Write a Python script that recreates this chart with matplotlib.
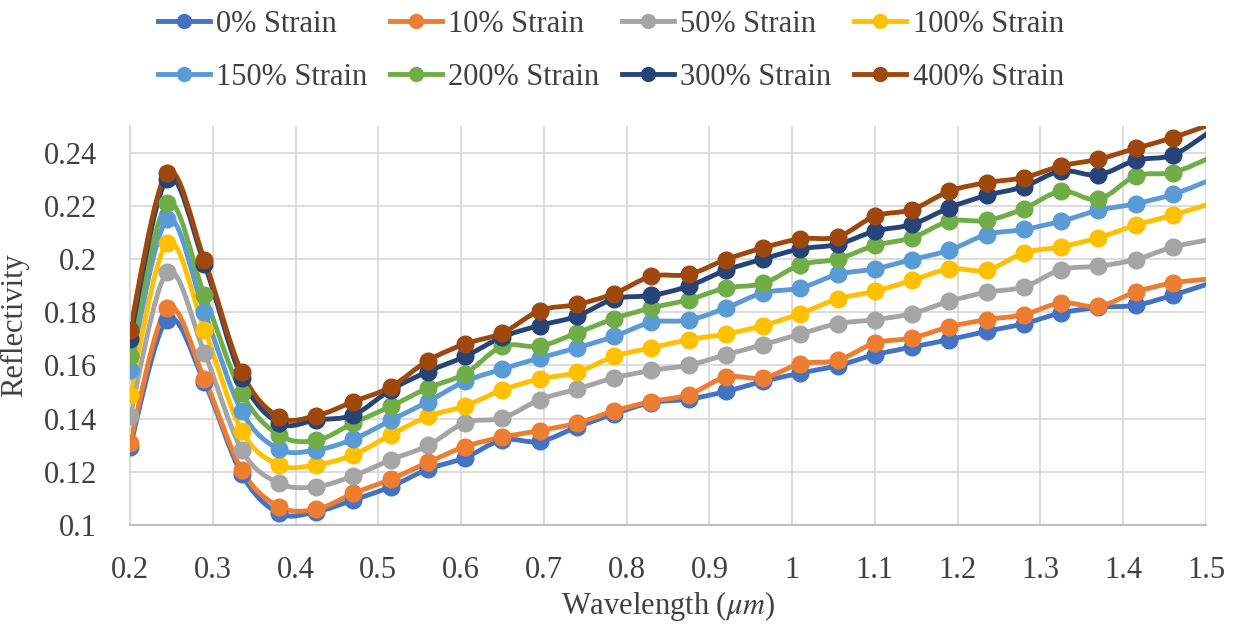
import numpy as np
import matplotlib
matplotlib.use("Agg")
import matplotlib.pyplot as plt
from matplotlib.path import Path
from matplotlib.patches import PathPatch
from matplotlib.lines import Line2D

plt.rcParams["font.family"] = ["Liberation Serif", "DejaVu Serif"]
plt.rcParams["mathtext.fontset"] = "stix"

# ====== DATA ======
wavelength = [0.2, 0.245, 0.29, 0.335, 0.38, 0.425, 0.47, 0.515, 0.56, 0.605,
              0.65, 0.695, 0.74, 0.785, 0.83, 0.875, 0.92, 0.965, 1.01, 1.055,
              1.1, 1.145, 1.19, 1.235, 1.28, 1.325, 1.37, 1.415, 1.46, 1.505]

s0 = [0.1293, 0.1772, 0.1536, 0.1191, 0.1044, 0.1050, 0.1094, 0.1144, 0.1210, 0.1253,
      0.1320, 0.1314, 0.1368, 0.1418, 0.1460, 0.1473, 0.1502, 0.1540, 0.1571, 0.1599,
      0.1640, 0.1669, 0.1697, 0.1728, 0.1757, 0.1797, 0.1818, 0.1826, 0.1864, 0.1909]
s10 = [0.1308, 0.1816, 0.1549, 0.1207, 0.1069, 0.1059, 0.1119, 0.1172, 0.1235, 0.1295,
       0.1330, 0.1355, 0.1383, 0.1429, 0.1464, 0.1490, 0.1556, 0.1553, 0.1606, 0.1619,
       0.1684, 0.1703, 0.1745, 0.1772, 0.1791, 0.1835, 0.1822, 0.1876, 0.1910, 0.1925]
s50 = [0.1408, 0.1950, 0.1647, 0.1282, 0.1157, 0.1144, 0.1185, 0.1245, 0.1299, 0.1385,
       0.1402, 0.1471, 0.1511, 0.1553, 0.1581, 0.1601, 0.1640, 0.1678, 0.1718, 0.1757,
       0.1772, 0.1795, 0.1841, 0.1875, 0.1895, 0.1960, 0.1973, 0.1998, 0.2045, 0.2073]
s100 = [0.1490, 0.2061, 0.1734, 0.1354, 0.1226, 0.1226, 0.1264, 0.1339, 0.1408, 0.1448,
        0.1508, 0.1549, 0.1574, 0.1634, 0.1666, 0.1697, 0.1718, 0.1750, 0.1795, 0.1850,
        0.1879, 0.1920, 0.1963, 0.1958, 0.2023, 0.2046, 0.2080, 0.2127, 0.2165, 0.2208]
s150 = [0.1584, 0.2149, 0.1800, 0.1427, 0.1285, 0.1282, 0.1323, 0.1393, 0.1464, 0.1540,
        0.1586, 0.1628, 0.1666, 0.1709, 0.1762, 0.1770, 0.1816, 0.1873, 0.1891, 0.1942,
        0.1963, 0.1998, 0.2033, 0.2092, 0.2111, 0.2142, 0.2183, 0.2208, 0.2243, 0.2297]
s200 = [0.1637, 0.2209, 0.1863, 0.1496, 0.1338, 0.1318, 0.1383, 0.1446, 0.1515, 0.1569,
        0.1672, 0.1672, 0.1722, 0.1776, 0.1816, 0.1847, 0.1891, 0.1908, 0.1978, 0.2000,
        0.2051, 0.2080, 0.2142, 0.2145, 0.2189, 0.2255, 0.2224, 0.2312, 0.2325, 0.2381]
s300 = [0.1700, 0.2302, 0.1980, 0.1552, 0.1383, 0.1395, 0.1414, 0.1508, 0.1577, 0.1634,
        0.1707, 0.1750, 0.1785, 0.1850, 0.1863, 0.1898, 0.1958, 0.2000, 0.2038, 0.2055,
        0.2105, 0.2130, 0.2193, 0.2239, 0.2272, 0.2331, 0.2316, 0.2371, 0.2391, 0.2479]
s400 = [0.1734, 0.2325, 0.1996, 0.1574, 0.1406, 0.1411, 0.1464, 0.1519, 0.1618, 0.1681,
        0.1722, 0.1806, 0.1829, 0.1870, 0.1935, 0.1942, 0.1998, 0.2042, 0.2076, 0.2083,
        0.2161, 0.2186, 0.2255, 0.2287, 0.2306, 0.2350, 0.2375, 0.2416, 0.2456, 0.2506]

labels = ["0% Strain", "10% Strain", "50% Strain", "100% Strain",
          "150% Strain", "200% Strain", "300% Strain", "400% Strain"]
series = [s0, s10, s50, s100, s150, s200, s300, s400]
colors = ["#4472C4", "#ED7D31", "#A5A5A5", "#FFC000",
          "#5B9BD5", "#70AD47", "#264478", "#9E480E"]

x_ticks = [0.2, 0.3, 0.4, 0.5, 0.6, 0.7, 0.8, 0.9, 1.0, 1.1, 1.2, 1.3, 1.4, 1.5]
y_ticks = [0.1, 0.12, 0.14, 0.16, 0.18, 0.2, 0.22, 0.24]
XMIN, XMAX, YMIN, YMAX = 0.2, 1.5, 0.1, 0.25


def smooth_path(xs, ys):
    # excel-ish smoothed line: bezier segments through every point
    p = np.column_stack([xs, ys])
    n = len(p)
    verts = [p[0]]
    codes = [Path.MOVETO]
    for i in range(n - 1):
        p0 = p[i - 1] if i > 0 else p[i]
        p3 = p[i + 2] if i + 2 < n else p[i + 1]
        c1 = p[i] + (p[i + 1] - p0) / 6.0
        c2 = p[i + 1] - (p3 - p[i]) / 6.0
        verts += [c1, c2, p[i + 1]]
        codes += [Path.CURVE4] * 3
    return Path(verts, codes)


FS = 22
TXT = "#404040"

fig = plt.figure(figsize=(12.34, 6.26), dpi=100)
ax = fig.add_axes([130 / 1234, 1 - 525 / 626, 1076 / 1234, 399 / 626])

x = np.array(wavelength)
inside = x <= XMAX + 1e-9
for vals, col, lab in zip(series, colors, labels):
    y = np.array(vals)
    patch = PathPatch(smooth_path(x, y), facecolor="none", edgecolor=col,
                      lw=3.5, capstyle="round", joinstyle="round")
    ax.add_patch(patch)
    ax.plot(x[inside], y[inside], "o", color=col, ms=12, mec=col, zorder=3)

ax.set_xlim(XMIN, XMAX)
ax.set_ylim(YMIN, YMAX)
ax.set_xticks(x_ticks)
ax.set_yticks(y_ticks)
ax.set_xticklabels([f"{v:g}" for v in x_ticks])
ax.set_yticklabels([f"{v:g}" for v in y_ticks])
ax.tick_params(length=0, labelsize=FS, labelcolor=TXT, pad=22)
ax.tick_params(axis="y", pad=24)
ax.grid(True, color="#D9D9D9", lw=1.3)
ax.set_axisbelow(True)
for s in ["top", "right"]:
    ax.spines[s].set_visible(False)
ax.spines["left"].set_color("#D9D9D9")
ax.spines["left"].set_linewidth(1.3)
ax.spines["bottom"].set_color("#BFBFBF")
ax.spines["bottom"].set_linewidth(1.5)

ax.set_xlabel(r"Wavelength ($\mu m$)", fontsize=FS, color=TXT, labelpad=3)
ax.set_ylabel("Reflectivity", fontsize=FS, color=TXT, labelpad=10)

# legend fills by column, so reorder to read row by row like the original
order = [0, 4, 1, 5, 2, 6, 3, 7]
handles = [Line2D([], [], color=colors[i], lw=3.5, marker="o", ms=10) for i in order]
fig.legend(handles, [labels[i] for i in order], loc="upper center",
           bbox_to_anchor=(0.495, 1.018),
           ncol=4, frameon=False, fontsize=FS, labelcolor=TXT,
           handlelength=1.7, handletextpad=0.2, columnspacing=0.75,
           labelspacing=0.78, borderpad=0.2)

fig.savefig("out.png", dpi=100)
